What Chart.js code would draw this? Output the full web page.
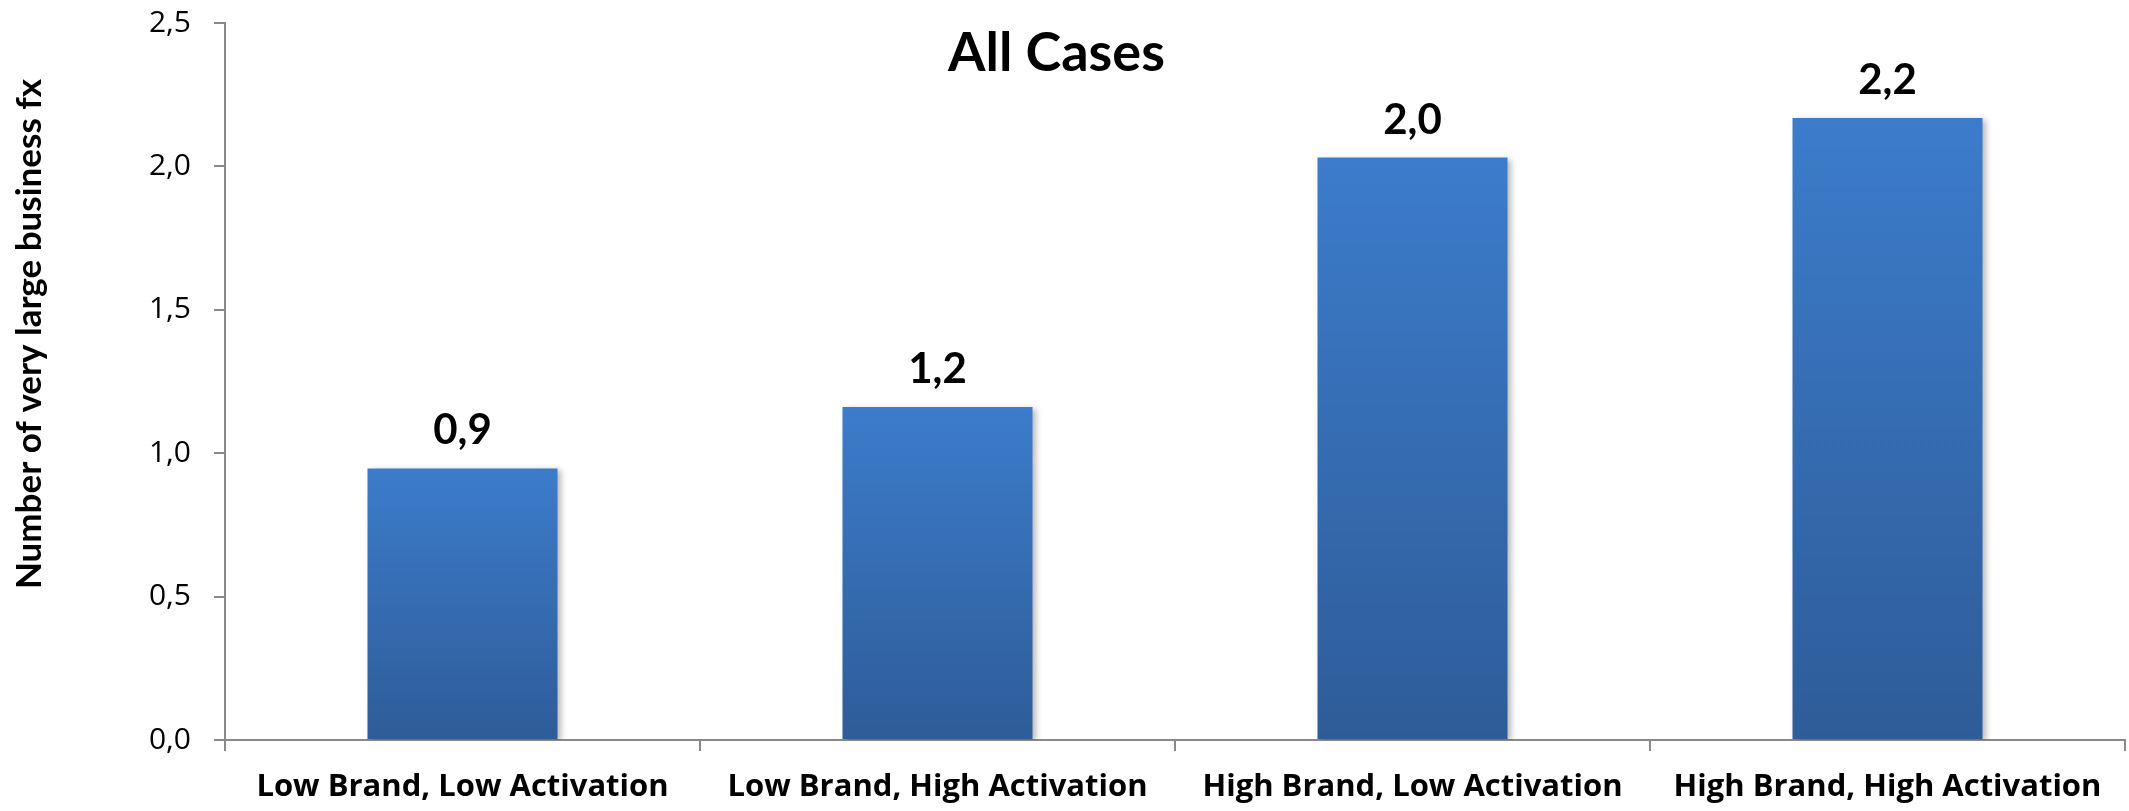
<!DOCTYPE html>
<html>
<head>
<meta charset="utf-8">
<title>All Cases</title>
<script src="https://cdn.jsdelivr.net/npm/chart.js@4.4.1/dist/chart.umd.min.js"></script>
<style>
  html, body { margin: 0; padding: 0; background: #fff; }
  #wrap { width: 2129px; height: 811px; position: relative; }
</style>
</head>
<body>
<div id="wrap"><canvas id="casesChart"></canvas></div>
<script>
// Chart data
const categories = [
  "Low Brand, Low Activation",
  "Low Brand, High Activation",
  "High Brand, Low Activation",
  "High Brand, High Activation"
];
const largeFirms = [0.947, 1.161, 2.031, 2.169];
const yTickValues = [0, 0.5, 1.0, 1.5, 2.0, 2.5];
const chartTitle = "All Cases";
const yAxisTitle = "Number of very large business fx";

const FONT = "Lato, 'Open Sans', sans-serif";
const WIDE_FONT = "'Open Sans', Lato, sans-serif";
const AXIS_GREY = "#898989";

// 1 decimal with a comma, like 2,0
function fmt(v) {
  return v.toFixed(1).replace(".", ",");
}

// Vertical gradient per bar (light top, darker base)
function barGradient(ctx) {
  const chart = ctx.chart;
  const y = chart.scales.y;
  if (!chart.chartArea || !y || ctx.type !== "data") return "#3a78c4";
  const top = y.getPixelForValue(ctx.raw);
  const base = y.getPixelForValue(0);
  const g = chart.ctx.createLinearGradient(0, top, 0, base);
  g.addColorStop(0, "#3c7ccb");
  g.addColorStop(1, "#2e5c98");
  return g;
}

// Soft drop shadow behind the bars
const barShadow = {
  id: "barShadow",
  beforeDatasetsDraw(chart) {
    const c = chart.ctx;
    c.save();
    c.shadowColor = "rgba(0, 0, 0, 0.28)";
    c.shadowBlur = 6;
    c.shadowOffsetX = 3;
    c.shadowOffsetY = 2;
  },
  afterDatasetsDraw(chart) {
    chart.ctx.restore();
  }
};

// Title, rotated y title and value labels over bars
const textLayer = {
  id: "textLayer",
  afterDraw(chart) {
    const c = chart.ctx;
    c.save();
    c.fillStyle = "#000";

    // title
    c.font = `bold 54px ${FONT}`;
    c.textAlign = "center";
    c.textBaseline = "alphabetic";
    c.fillText(chartTitle, chart.width / 2 - 8, 71);

    // y axis title
    c.save();
    c.translate(30, 334);
    c.rotate(-Math.PI / 2);
    c.font = `bold 35px ${FONT}`;
    c.textBaseline = "middle";
    c.fillText(yAxisTitle, 0, 0);
    c.restore();

    // bar values
    c.font = `bold 42px ${FONT}`;
    c.textBaseline = "alphabetic";
    const meta = chart.getDatasetMeta(0);
    meta.data.forEach((bar, i) => {
      c.fillText(fmt(largeFirms[i]), bar.x, bar.y - 24);
    });
    c.restore();
  }
};

const ctx = document.getElementById("casesChart").getContext("2d");
const casesChart = new Chart(ctx, {
  type: "bar",
  data: {
    labels: categories,
    datasets: [{
      label: chartTitle,
      data: largeFirms,
      backgroundColor: barGradient,
      borderWidth: 0,
      barPercentage: 0.4,
      categoryPercentage: 1.0
    }]
  },
  options: {
    responsive: true,
    maintainAspectRatio: false,
    animation: false,
    layout: {
      padding: { top: 23, right: 4, bottom: 0, left: 0 }
    },
    plugins: {
      legend: { display: false },
      title: { display: false },
      tooltip: { enabled: false }
    },
    scales: {
      x: {
        offset: true,
        grid: {
          display: true,
          offset: true,
          drawOnChartArea: false,
          drawTicks: true,
          tickLength: 11,
          color: AXIS_GREY,
          lineWidth: 2
        },
        border: { display: true, color: AXIS_GREY, width: 2 },
        ticks: {
          color: "#000",
          padding: 18,
          maxRotation: 0,
          autoSkip: false,
          font: { family: WIDE_FONT, size: 31, weight: "bold" }
        },
        afterFit(scale) { scale.height = 71; }
      },
      y: {
        min: 0,
        max: 2.5,
        afterBuildTicks(scale) {
          scale.ticks = yTickValues.map(v => ({ value: v }));
        },
        grid: {
          display: true,
          drawOnChartArea: false,
          drawTicks: true,
          tickLength: 11,
          color: AXIS_GREY,
          lineWidth: 2
        },
        border: { display: true, color: AXIS_GREY, width: 2 },
        ticks: {
          color: "#000",
          padding: 23,
          font: { family: WIDE_FONT, size: 30 },
          callback: (v) => fmt(v)
        },
        afterFit(scale) {
          // fixed axis width; top label may overhang the layout padding
          scale.width = 225;
          scale.paddingTop = 0;
        }
      }
    }
  },
  plugins: [barShadow, textLayer]
});
</script>
</body>
</html>
